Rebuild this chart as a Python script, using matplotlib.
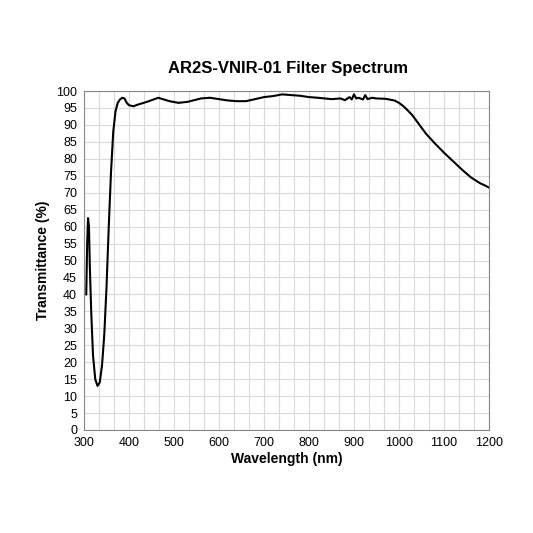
import matplotlib
matplotlib.use("Agg")
import matplotlib.pyplot as plt
from matplotlib.ticker import MultipleLocator
plt.rcParams['font.family'] = ['Liberation Sans', 'DejaVu Sans']

wl = [305,307,309,311,313,316,320,325,330,335,340,345,350,355,360,365,370,375,380,385,390,395,400,410,420,440,465,490,510,530,560,580,600,620,640,660,680,700,720,740,760,780,800,820,850,870,880,890,895,900,905,910,920,925,930,940,950,970,990,1000,1010,1020,1030,1040,1050,1060,1080,1100,1120,1140,1160,1180,1190,1200]
tr = [40,55,62.5,60,48,35,22,15,13,14,19,28,42,60,76,88,94,96.5,97.5,98,97.8,96.5,95.8,95.5,96,96.8,98,97,96.5,96.8,97.8,98,97.6,97.2,97,97,97.6,98.2,98.5,99,98.8,98.6,98.2,98,97.6,97.8,97.3,98.2,97.5,99,97.8,98,97.5,98.8,97.6,98,97.8,97.7,97.2,96.5,95.5,94.2,92.8,91,89.2,87.4,84.5,81.8,79.3,76.8,74.5,72.8,72.2,71.5]

fig = plt.figure(figsize=(5.33,5.33), dpi=100)
ax = fig.add_axes([84/533, 1-430/533, 405/533, 339/533])
ax.plot(wl, tr, color='black', lw=1.5)
ax.set_xlim(300,1200); ax.set_ylim(0,100)
ax.xaxis.set_major_locator(MultipleLocator(100))
ax.xaxis.set_minor_locator(MultipleLocator(100/3))
ax.yaxis.set_major_locator(MultipleLocator(5))
ax.grid(True, which='both', color='#d9d9d9', lw=0.8)
ax.set_axisbelow(True)
for s in ax.spines.values(): s.set_color('#888888')
ax.tick_params(length=0, labelsize=9, which='both', pad=5)
ax.set_xlabel('Wavelength (nm)', fontsize=10, fontweight='bold', labelpad=2)
ax.set_ylabel('Transmittance (%)', fontsize=10, fontweight='bold')
fig.text(0.54, 1-68/533, 'AR2S-VNIR-01 Filter Spectrum', ha='center', va='center', fontsize=12, fontweight='bold')
fig.savefig('out.png', dpi=100)
